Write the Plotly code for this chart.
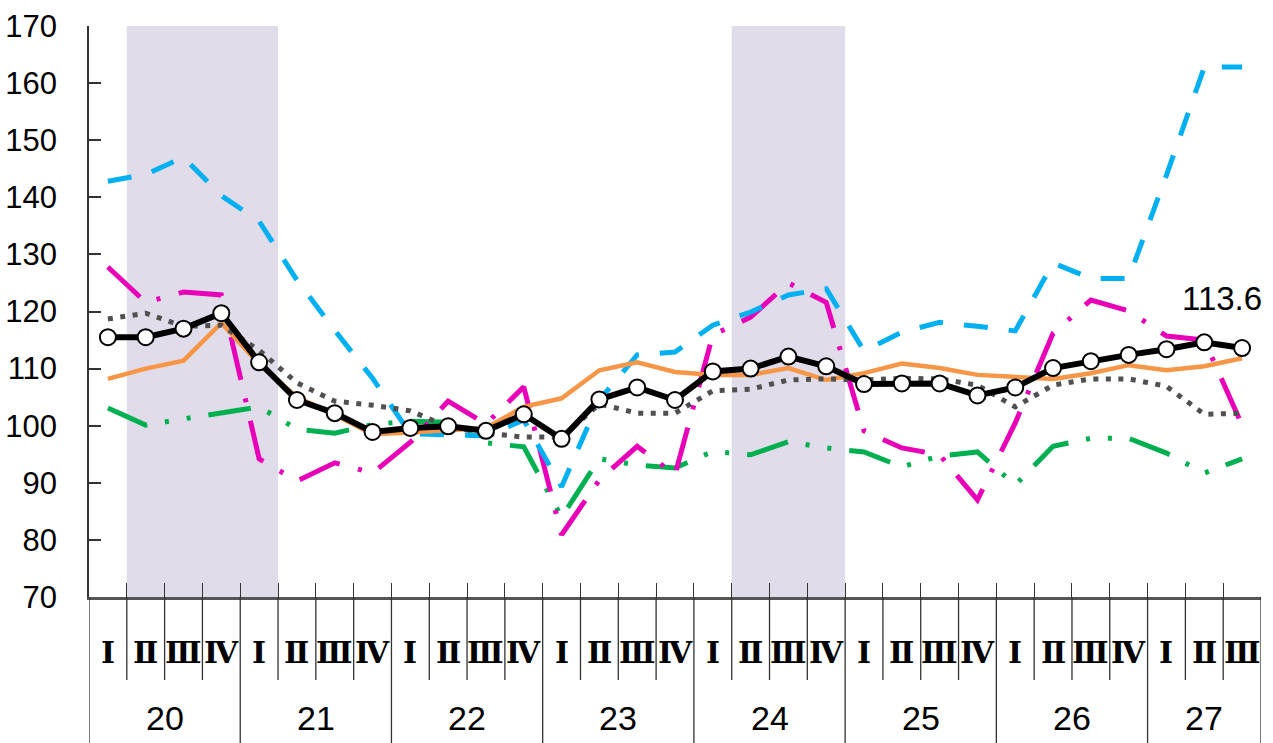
import plotly.graph_objects as go

years = ["20", "21", "22", "23", "24", "25", "26", "27"]
quarter_names = ["Ⅰ", "Ⅱ", "Ⅲ", "Ⅳ"]
n_quarters = 31  # 20-I .. 27-III

main_idx = [115.5, 115.5, 117.0, 119.7, 111.1, 104.5, 102.2, 98.9, 99.6, 99.9, 99.1, 102.0, 97.7, 104.6,
            106.7, 104.5, 109.5, 110.0, 112.1, 110.4, 107.3, 107.4, 107.4, 105.3, 106.7, 110.1, 111.3,
            112.4, 113.4, 114.6, 113.6]
orange = [108.2, 110.0, 111.4, 118.0, 110.8, 105.0, 101.9, 98.5, 98.8, 99.2, 99.6, 103.3, 104.8, 109.7,
          111.1, 109.4, 108.9, 108.9, 110.1, 108.0, 109.2, 110.9, 110.1, 108.9, 108.5, 108.2, 109.2,
          110.6, 109.7, 110.4, 111.8]
grey = [118.7, 119.7, 117.4, 117.6, 113.2, 107.5, 104.3, 103.6, 102.6, 99.8, 98.7, 98.0, 98.0, 103.8,
        102.2, 102.2, 106.1, 106.4, 108.0, 108.2, 108.0, 108.3, 108.2, 107.1, 103.3, 107.1, 108.2,
        108.2, 106.9, 102.0, 102.2]
cyan = [142.8, 144.0, 147.0, 140.3, 135.8, 125.5, 116.7, 108.3, 98.6, 98.4, 98.2, 101.0, 89.3, 104.5,
        112.4, 112.9, 117.6, 119.9, 122.9, 124.0, 113.1, 116.4, 118.1, 117.4, 116.6, 128.5, 125.8,
        125.8, 143.9, 162.8, 162.8]
magenta = [127.8, 121.6, 123.4, 122.9, 94.2, 90.3, 93.5, 91.7, 97.1, 104.3, 100.3, 106.8, 80.9, 90.5,
           96.4, 91.4, 115.9, 119.0, 125.0, 121.6, 99.1, 96.1, 94.9, 87.0, 100.5, 116.2, 122.0,
           120.1, 115.7, 115.0, 100.1]
green = [103.1, 100.1, 101.2, 102.2, 103.3, 99.4, 98.7, 100.2, 100.8, 100.6, 97.0, 96.3, 84.0, 94.2,
         93.1, 92.6, 95.5, 94.9, 97.2, 96.1, 95.4, 92.8, 94.7, 95.4, 89.6, 96.4, 97.8, 97.8, 95.2,
         91.7, 94.2]
shaded = [(1, 4), (17, 19)]  # quarter index ranges (inclusive)
last_label = "113.6"
y_ticks = [70, 80, 90, 100, 110, 120, 130, 140, 150, 160, 170]

NUM_FONT = "Liberation Sans, Arial, sans-serif"

x = list(range(n_quarters))
fig = go.Figure()

fig.add_trace(go.Scatter(x=x, y=green, mode="lines",
                         line=dict(color="#00B050", width=5, dash="43px,18px,4px,18px,4px,18px")))
fig.add_trace(go.Scatter(x=x, y=magenta, mode="lines",
                         line=dict(color="#E800B8", width=5, dash="44px,19px,4px,19px")))
fig.add_trace(go.Scatter(x=x, y=cyan, mode="lines",
                         line=dict(color="#00B0F0", width=5, dash="24px,21px")))
fig.add_trace(go.Scatter(x=x, y=orange, mode="lines",
                         line=dict(color="#F79646", width=4.5)))
fig.add_trace(go.Scatter(x=x, y=grey, mode="lines",
                         line=dict(color="#505050", width=5, dash="5px,7.5px")))
fig.add_trace(go.Scatter(x=x, y=main_idx, mode="lines+markers",
                         line=dict(color="#000000", width=6),
                         marker=dict(size=16, color="white", line=dict(color="black", width=2))))

shapes = []
for a, b in shaded:
    shapes.append(dict(type="rect", xref="x", yref="y", x0=a - 0.5, x1=b + 0.5, y0=70, y1=170,
                       fillcolor="#E1DCEA", line=dict(width=0), layer="below"))

bottom = -146 / 571
qline = -83 / 571
for bnd in range(n_quarters + 1):
    xb = bnd - 0.5
    full = (bnd % 4 == 0) or bnd == n_quarters
    shapes.append(dict(type="line", xref="x", yref="paper", x0=xb, x1=xb, y0=0,
                       y1=bottom if full else qline, line=dict(color="#333333", width=1.3)))

annotations = []
for i in range(n_quarters):
    annotations.append(dict(x=i, y=-55 / 571, xref="x", yref="paper", text="<b>" + quarter_names[i % 4] + "</b>",
                            showarrow=False,
                            font=dict(family="DejaVu Serif, Liberation Serif, serif", size=30, color="black"),
                            xanchor="center", yanchor="middle"))
for k, yr in enumerate(years):
    first = k * 4
    last = min(first + 3, n_quarters - 1)
    annotations.append(dict(x=(first + last) / 2, y=-121 / 571, xref="x", yref="paper", text=yr,
                            showarrow=False,
                            font=dict(family=NUM_FONT, size=34, color="black"),
                            xanchor="center", yanchor="middle"))
annotations.append(dict(x=n_quarters - 1, y=main_idx[-1], xref="x", yref="y", text=last_label,
                        showarrow=False, xshift=-20, yshift=50,
                        font=dict(family=NUM_FONT, size=33, color="black"),
                        xanchor="center", yanchor="middle"))

fig.update_layout(
    width=1273, height=743,
    margin=dict(l=89, r=12, t=26, b=146, autoexpand=False),
    paper_bgcolor="white", plot_bgcolor="white",
    showlegend=False,
    shapes=shapes, annotations=annotations,
    xaxis=dict(range=[-0.5, n_quarters - 0.5], showgrid=False, zeroline=False, automargin=False,
               tickvals=[v - 0.5 for v in range(n_quarters + 1)], ticks="inside", ticklen=14,
               tickcolor="#333333", tickwidth=1.3, showticklabels=False,
               showline=True, linecolor="#555555", linewidth=2.5),
    yaxis=dict(range=[70, 170], showgrid=False, zeroline=False, tickvals=y_ticks, automargin=False,
               ticks="inside", ticklen=12, tickcolor="#333333", tickwidth=1.5,
               showline=True, linecolor="#333333", linewidth=1.5,
               ticklabelstandoff=24,
               tickfont=dict(family=NUM_FONT, size=31, color="black")),
)

fig.write_html("out.html")
